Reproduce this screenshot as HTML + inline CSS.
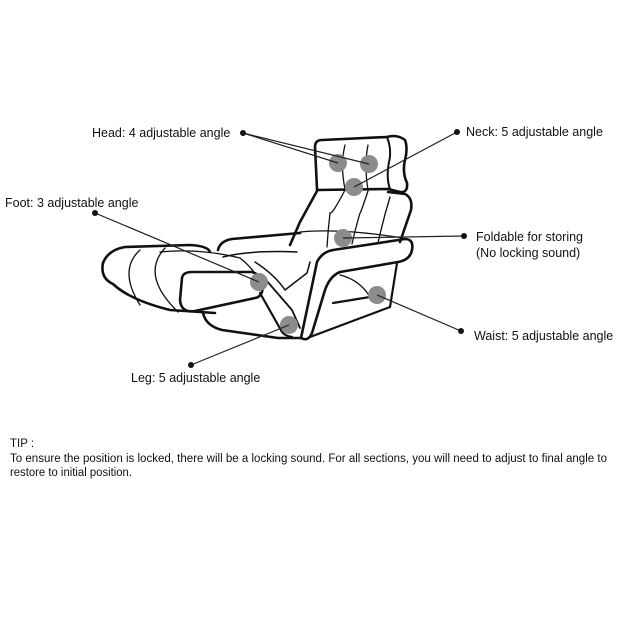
<!DOCTYPE html>
<html><head><meta charset="utf-8"><style>
html,body{margin:0;padding:0;background:#fff}
svg{display:block}
text{font-family:"Liberation Sans",sans-serif;fill:#111}
</style></head><body>
<svg width="620" height="620" viewBox="0 0 620 620" xmlns="http://www.w3.org/2000/svg">
<g fill="none" stroke="#111" stroke-width="2.6" stroke-linejoin="round" stroke-linecap="round">
<!-- headrest -->
<path d="M317,189 L315,147 Q315,140 322,140 L387,137"/>
<path d="M387,137 Q397,134 405,140 Q408,148 405,160 Q402,172 407,183 Q408,193 400,192 L388,189 L317,190"/>
<path d="M387,137 Q392,150 389,162 Q386,178 390,189" stroke-width="2"/>
<path d="M345,145 Q340,165 345,189 M368,145 Q364,165 368,190" stroke-width="1.3"/>
<!-- backrest -->
<path d="M317,191 L300,222 L290,245"/>
<path d="M388,192 L405,194 Q413,198 411,210 L400,242"/>
<path d="M345,190 Q332,215 330,213 Q328,230 327,247 M368,191 Q360,215 360,213 Q355,230 352,244 M390,197 Q383,220 378,243" stroke-width="1.3"/>
<path d="M300,232 Q340,228 403,238" stroke-width="1.3"/>
<!-- back arm cushion -->
<path d="M218,250 Q220,241 232,239 L300,233"/>
<path d="M223,257 Q250,250 297,252" stroke-width="1.5"/>
<!-- leg rest big cushion -->
<path d="M103,263 Q108,250 125,247 L190,245 Q208,246 210,252"/>
<path d="M103,263 Q100,278 113,284 Q130,300 170,310 L215,313"/>
<path d="M140,250 Q118,270 140,305 M165,248 Q140,275 178,312" stroke-width="1.3"/>
<path d="M160,252 Q200,248 240,258 Q255,270 258,280" stroke-width="1.3"/>
<!-- front small cushion -->
<path d="M182,278 Q183,272 192,272 L252,272 Q264,276 263,287 Q262,297 255,298 L195,311 Q181,313 180,300 Z"/>
<!-- seat base -->
<path d="M203,313 Q206,326 222,330 L278,338 L300,338"/>
<!-- leg V -->
<path d="M260,293 L282,332 Q285,336 292,337" stroke-width="2.2"/>
<path d="M266,280 L292,310 L300,328" stroke-width="1.8"/>
<path d="M255,262 Q275,275 285,290 L307,273 L310,262" stroke-width="1.5"/>
<!-- front frame -->
<path d="M301,338 L317,262 Q322,252 333,250 L405,239 Q414,239 412,250 Q410,260 398,262 L340,272 Q330,276 325,290 L312,333 Q308,342 301,338 Z"/>
<path d="M333,303 L370,297 M397,263 L390,307 L310,337" stroke-width="2.2"/>
<path d="M340,275 Q360,280 370,297" stroke-width="1.3"/>
</g>
<!-- dots -->
<g fill="#8c8c8c">
<circle cx="338" cy="163" r="9"/><circle cx="369" cy="164" r="9"/>
<circle cx="354" cy="187" r="9"/><circle cx="343" cy="238" r="9"/>
<circle cx="259" cy="282" r="9"/><circle cx="289" cy="325" r="9"/>
<circle cx="377" cy="295" r="9"/>
</g>
<!-- leader lines -->
<g stroke="#222" stroke-width="1.2">
<line x1="243" y1="133" x2="338" y2="163"/><line x1="243" y1="133" x2="369" y2="164"/>
<line x1="457" y1="132" x2="354" y2="187"/>
<line x1="95" y1="213" x2="259" y2="282"/>
<line x1="464" y1="236" x2="343" y2="238"/>
<line x1="461" y1="331" x2="377" y2="295"/>
<line x1="191" y1="365" x2="289" y2="325"/>
</g>
<g fill="#111">
<circle cx="243" cy="133" r="3"/><circle cx="457" cy="132" r="3"/>
<circle cx="95" cy="213" r="3"/><circle cx="464" cy="236" r="3"/>
<circle cx="461" cy="331" r="3"/><circle cx="191" cy="365" r="3"/>
</g>
<g font-size="12.5">
<text x="92" y="137">Head: 4 adjustable angle</text>
<text x="466" y="136">Neck: 5 adjustable angle</text>
<text x="5" y="207">Foot: 3 adjustable angle</text>
<text x="476" y="241">Foldable for storing</text>
<text x="476" y="257">(No locking sound)</text>
<text x="474" y="340">Waist: 5 adjustable angle</text>
<text x="131" y="382">Leg: 5 adjustable angle</text>
</g>
<g font-size="11.5">
<text x="10" y="447">TIP :</text>
<text x="10" y="462" textLength="597" lengthAdjust="spacingAndGlyphs">To ensure the position is locked, there will be a locking sound. For all sections, you will need to adjust to final angle to</text>
<text x="10" y="476" textLength="122" lengthAdjust="spacingAndGlyphs">restore to initial position.</text>
</g>
</svg>
</body></html>
